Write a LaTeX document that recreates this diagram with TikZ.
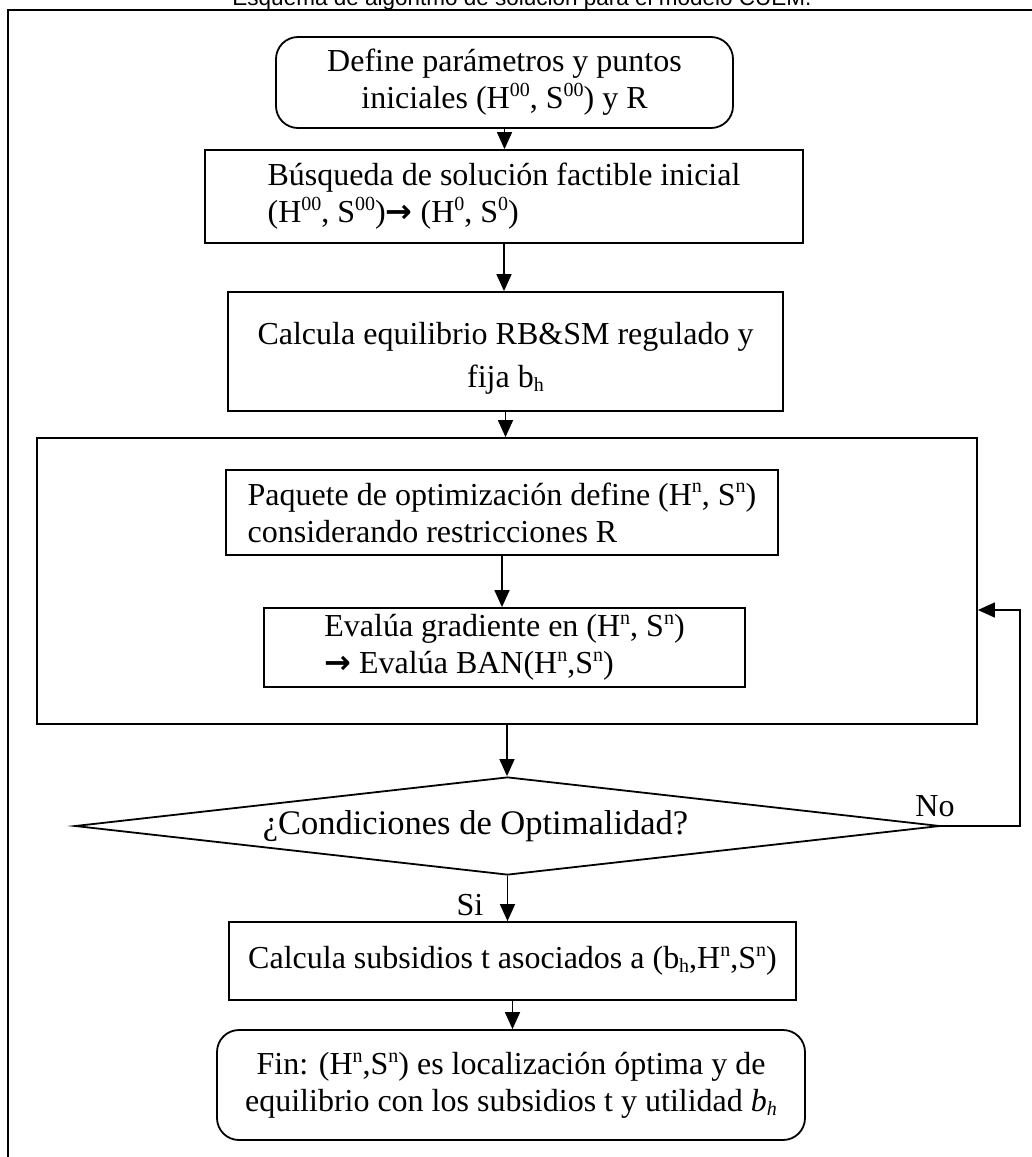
\documentclass[tikz,border=0pt]{standalone}
\usepackage{fontspec}
\setmainfont{Liberation Serif}
\newfontfamily\titlefont{Liberation Sans}
\newfontfamily\symfont{DejaVu Sans}
\usetikzlibrary{arrows.meta,shapes.geometric}

% small raised and lowered indices, word-processor style
\newcommand\hsup[1]{\raisebox{0.38em}{\fontsize{20}{20}\selectfont #1}}
\newcommand\hsub[1]{\raisebox{-0.12em}{\fontsize{20}{20}\selectfont #1}}
\newcommand\rarrow{{\symfont\bfseries →}}

\begin{document}
\begin{tikzpicture}[x=1pt,y=-1pt,
  every node/.style={font=\fontsize{32}{37}\selectfont, inner sep=0pt},
  box/.style={draw, line width=1.8pt, rectangle},
  rbox/.style={box, rounded corners=22pt},
  flow/.style={line width=1.6pt, -{Triangle[length=17pt,width=15pt]}},
  frame/.style={draw, line width=2pt}
]
\useasboundingbox (0,0) rectangle (1032,1157);

% outer frame and heading
\draw[frame] (8,10) rectangle (1060,1190);
\node[anchor=base, font=\titlefont\fontsize{22.5}{27}\selectfont] (title) at (522,5.5)
  {Esquema de algoritmo de solución para el modelo CUEM.};

% main steps
\node[rbox, minimum width=457pt, minimum height=91pt, align=center] (b1) at (504.5,82.5)
  {Define parámetros y puntos\\ iniciales (H\hsup{00}, S\hsup{00}) y R};
\node[box, minimum width=598pt, minimum height=93pt, align=left] (b2) at (504,196.5)
  {Búsqueda de solución factible inicial\\ (H\hsup{00}, S\hsup{00})\rarrow{} (H\hsup{0}, S\hsup{0})};
\node[box, minimum width=555pt, minimum height=119pt] (b3) at (505.5,351.5)
  {\raisebox{-7pt}[\height][\depth]{\begin{tabular}{@{}c@{}}Calcula equilibrio RB\&SM regulado y\\[6pt] fija b\hsub{h}\end{tabular}}};

% optimisation loop
\node[box, minimum width=940pt, minimum height=286pt] (loop) at (507,581) {};
\node[box, minimum width=552pt, minimum height=85pt, align=left] (inA) at (502,512.5)
  {Paquete de optimización define (H\hsup{n}, S\hsup{n})\\ considerando restricciones R};
\node[box, minimum width=481pt, minimum height=79pt, align=left] (inB) at (504.5,647.5)
  {Evalúa gradiente en (H\hsup{n}, S\hsup{n})\\ \rarrow{} Evalúa BAN(H\hsup{n},S\hsup{n})};

% decision
\node[diamond, draw, line width=1.8pt, aspect=8.83, minimum width=865pt, minimum height=98pt,
      font=\fontsize{34.5}{40}\selectfont] (dia) at (507.5,826)
  {\raisebox{-3pt}{¿Condiciones de Optimalidad?}\hspace*{64pt}};
\node (no) at (935,806) {No};
\node (si) at (470,905) {Si};

% final steps
\node[box, minimum width=567pt, minimum height=78pt] (bC) at (512.5,961)
  {Calcula subsidios t asociados a (b\hsub{h},H\hsup{n},S\hsup{n})};
\node[rbox, minimum width=588pt, minimum height=110pt, align=center] (bD) at (511,1085)
  {Fin: (H\hsup{n},S\hsup{n}) es localización óptima y de\\ equilibrio con los subsidios t y utilidad \textit{b\hsub{h}}};

% connectors
\coordinate (back) at (1020,610);
\draw[flow] (b1.south) -- (b1.south |- b2.north);
\draw[flow] (b2.south) -- (b2.south |- b3.north);
\draw[flow] (b3.south) -- (b3.south |- loop.north);
\draw[flow] (inA.south) -- (inA.south |- inB.north);
\draw[flow] (loop.south) -- (loop.south |- dia.north);
\draw[flow] (dia.east) -| (back) -- (loop.east |- back);
\draw[flow] (dia.south) -- (dia.south |- bC.north);
\draw[flow] (bC.south) -- (bC.south |- bD.north);
\end{tikzpicture}
\end{document}
